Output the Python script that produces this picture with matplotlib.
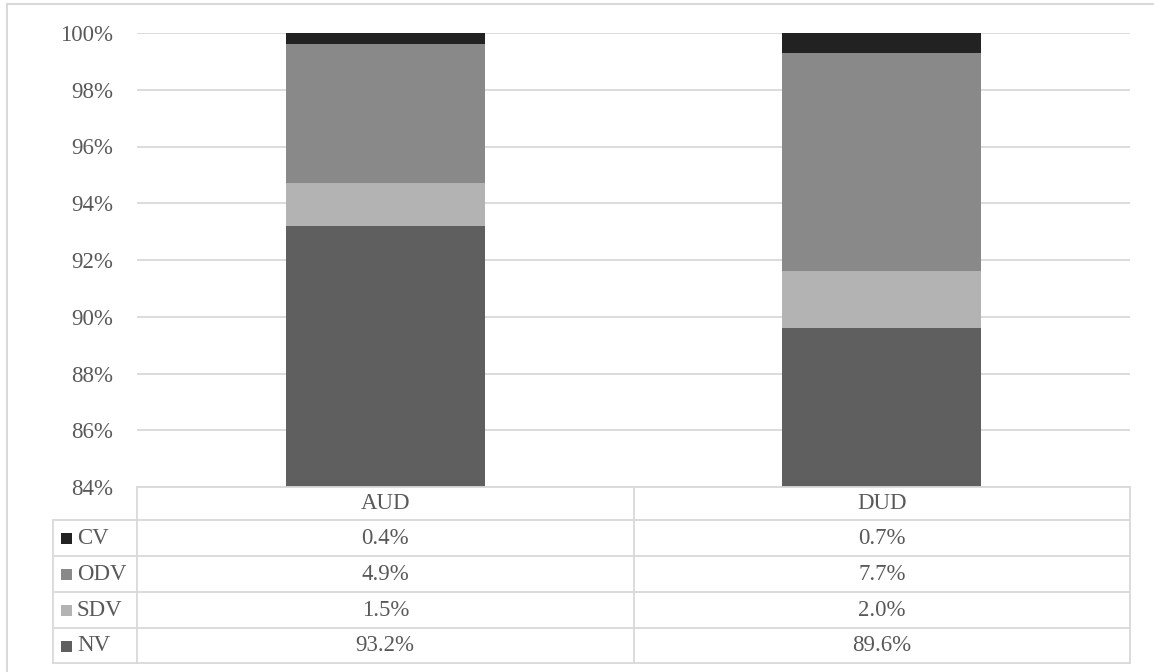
import matplotlib
matplotlib.use("Agg")
import matplotlib.pyplot as plt
from matplotlib.lines import Line2D
from matplotlib.patches import Rectangle
from matplotlib.transforms import blended_transform_factory
import numpy as np

categories = ["AUD", "DUD"]
series_names = ["NV", "SDV", "ODV", "CV"]
NV = [93.2, 89.6]
SDV = [1.5, 2.0]
ODV = [4.9, 7.7]
CV = [0.4, 0.7]
series_values = [NV, SDV, ODV, CV]
colors = ["#5f5f5f", "#b3b3b3", "#898989", "#222222"]
yticks = [84, 86, 88, 90, 92, 94, 96, 98, 100]

W, H = 1154, 672
plt.rcParams['font.family'] = ['Liberation Serif', 'DejaVu Serif']
TXT = "#595959"
GRID = "#d9d9d9"
FS = 16.5

fig = plt.figure(figsize=(W / 100, H / 100), dpi=100)

def fx(px):
    return px / W

def fy(py):
    return 1 - py / H

L, R, T, B = 137, 1130, 33, 487
ax = fig.add_axes([fx(L), fy(B), fx(R) - fx(L), fy(T) - fy(B)])

x = np.arange(len(categories))
bottom = np.zeros(len(categories))
for vals, c in zip(series_values, colors):
    ax.bar(x, vals, 0.4, bottom=bottom, color=c, zorder=3)
    bottom += np.array(vals)

ax.set_xlim(-0.5, len(categories) - 0.5)
ax.set_ylim(84, 100)
ax.set_yticks(yticks)
ax.set_yticklabels([f"{v}%" for v in yticks], color=TXT, fontsize=FS)
ax.tick_params(axis='y', length=0, pad=17)
ax.set_xticks([])
ax.grid(axis='y', color=GRID, linewidth=1.3, zorder=0)
for s in ax.spines.values():
    s.set_visible(False)

# outer border (top and left visible)
fig.add_artist(Line2D([fx(7), fx(W + 5)], [fy(4), fy(4)], color=GRID, lw=1.5))
fig.add_artist(Line2D([fx(7), fx(7)], [fy(4), fy(H + 5)], color=GRID, lw=1.5))

# data table
row_y = [487, 520, 556, 592, 628, 663]
col_x = [137, 634, 1130]
leg_l = 53
for i, yy in enumerate(row_y):
    xl = L if i == 0 else leg_l
    fig.add_artist(Line2D([fx(xl), fx(R)], [fy(yy), fy(yy)], color=GRID, lw=1.3))
for xx in col_x:
    fig.add_artist(Line2D([fx(xx), fx(xx)], [fy(row_y[0]), fy(row_y[-1])], color=GRID, lw=1.3))
fig.add_artist(Line2D([fx(leg_l), fx(leg_l)], [fy(row_y[1]), fy(row_y[-1])], color=GRID, lw=1.3))

tr = blended_transform_factory(ax.transData, fig.transFigure)
# header
hy = (row_y[0] + row_y[1]) / 2
for i, cat in enumerate(categories):
    ax.text(i, fy(hy), cat, transform=tr, ha='center', va='center', fontsize=FS, color=TXT)

# rows: CV, ODV, SDV, NV top to bottom
order = [3, 2, 1, 0]
for r, si in enumerate(order):
    cy = (row_y[r + 1] + row_y[r + 2]) / 2
    fig.add_artist(Rectangle((fx(61), fy(cy + 6)), fx(11), 11 / H, color=colors[si], lw=0))
    fig.text(fx(77), fy(cy), series_names[si], ha='left', va='center', fontsize=FS, color=TXT)
    for i in range(len(categories)):
        ax.text(i, fy(cy), f"{series_values[si][i]:.1f}%", transform=tr,
                ha='center', va='center', fontsize=FS, color=TXT)

fig.savefig("out.png", dpi=100)
